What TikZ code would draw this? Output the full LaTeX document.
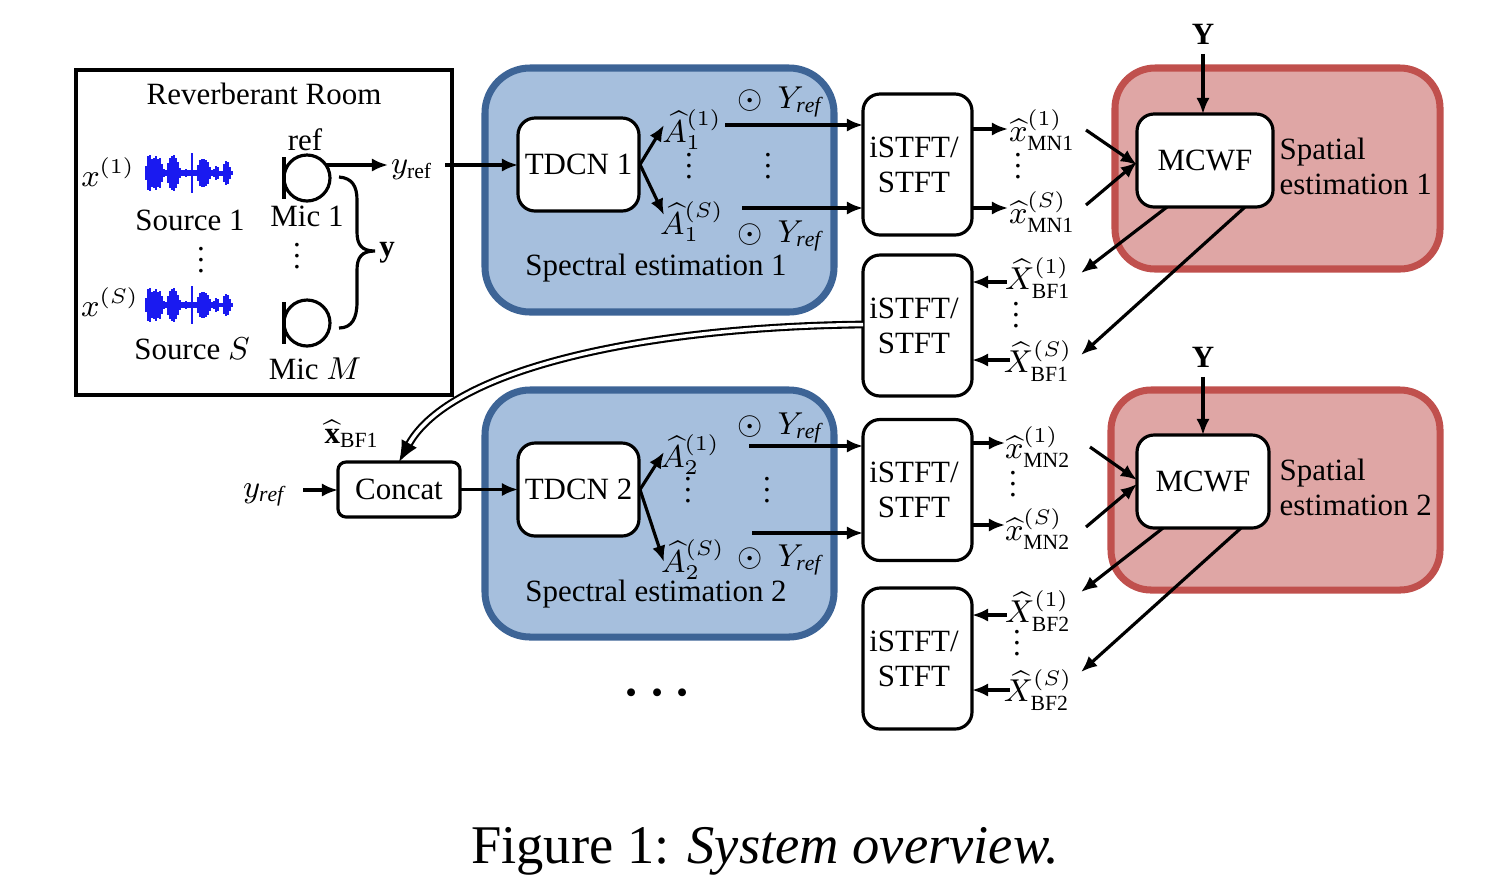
\documentclass[tikz,border=0pt]{standalone}
\usepackage{amsmath,amssymb}
\usepackage{fontspec}
\setmainfont{Liberation Serif}
\usepackage{tikz}
\usetikzlibrary{positioning}
\usetikzlibrary{arrows.meta}

\definecolor{bluefill}{HTML}{A6BFDD}
\definecolor{blueline}{HTML}{3D6496}
\definecolor{redfill}{HTML}{DFA6A5}
\definecolor{redline}{HTML}{C0504D}
\definecolor{wavecol}{HTML}{1A1AF0}

\tikzset{
  blk/.style={draw, line width=0.9pt, rounded corners=0.17cm, fill=white, align=center, inner sep=0pt, outer sep=0pt},
  tdcn/.style={blk, minimum width=121*0.01cm, minimum height=93*0.01cm},
  istft/.style={blk, minimum width=109*0.01cm, minimum height=141*0.01cm},
  mcwf/.style={blk, minimum height=93*0.01cm},
  bluebox/.style={draw=blueline, fill=bluefill, line width=2pt, rounded corners=0.45cm},
  redbox/.style={draw=redline, fill=redfill, line width=2pt, rounded corners=0.4cm},
  arr/.style={-{Latex[length=4.6pt,width=3.8pt]}, line width=0.9pt},
  micc/.style={draw, circle, line width=0.9pt, minimum size=46*0.01cm, inner sep=0pt, outer sep=0pt},
  lab/.style={inner sep=0pt}
}

\newcommand{\wavesig}[3]{%
  \foreach \dx/\hh in {0/14,2/34,4/36,6/28,8/30,10/34,12/28,14/30,16/18,18/8,20/6,22/20,24/30,26/34,28/36,30/30,32/22,34/10,36/6,38/6,40/8,42/6,44/6,46/40,48/6,50/6,52/16,54/26,56/28,58/28,60/26,62/22,64/12,66/6,68/8,70/14,72/12,74/5,76/5,78/18,80/24,82/22,84/12,86/4}
    \fill[wavecol] (#1+\dx-1,#2-#3*\hh/2) rectangle (#1+\dx+1,#2+#3*\hh/2);
}
\newcommand{\dotcol}{\vbox{\baselineskip=3.1pt \lineskiplimit=-5pt \hbox{.}\hbox{.}\hbox{.}}}
\newcommand{\istfttxt}{\kern-2pt iSTFT/\\\kern-2pt STFT}
\newcommand{\odotref}{$\odot\;\,Y_{\mathit{ref}}$}

\begin{document}
\begin{tikzpicture}[x=0.01cm, y=-0.01cm, font=\fontsize{8.8}{10}\selectfont]
  \useasboundingbox (0,0) rectangle (1500,890);

  % room
  \node[draw, line width=0.9pt, minimum width=376*0.01cm, minimum height=325*0.01cm, inner sep=0pt] (room) at (264,232.5) {};
  \node[lab] (roomtitle) at (264,94) {Reverberant Room};
  \node[lab] (srcone) at (108,172) {$x^{(1)}$};
  \node[lab] (srcs) at (110,302) {$x^{(S)}$};
  \wavesig{146}{173}{1}
  \wavesig{146}{305}{0.95}
  \node[lab] (srconetxt) at (190,220) {Source 1};
  \node[lab] (srcstxt) at (192,349) {Source $S$};
  \node[lab] (srcdots) at (201,260) {\dotcol};
  \node[lab] (ref) at (305,140) {ref};
  \node[micc] (micone) at (307,178) {};
  \node[micc] (micm) at (307,323) {};
  \draw[line width=0.9pt] (micone.west) ++(0,-21) -- ++(0,42);
  \draw[line width=0.9pt] (micm.west) ++(0,-21) -- ++(0,42);
  \node[lab] (miconetxt) at (307,216) {Mic 1};
  \node[lab] (micmtxt) at (315,369) {Mic $M$};
  \node[lab] (micdots) at (297,256) {\dotcol};
  \node[lab] (yvec) at (387,253) {$\mathbf{y}$};
  \node[lab] (yref) at (412,170) {$y_{\mathrm{ref}}$};
  \coordinate (ytip) at (388,165);
  \coordinate (brtop) at (339,177);
  \coordinate (brbot) at (339,328);
  \coordinate (brmid) at (375,251);
  \draw[arr] (micone.north east |- ytip) ++(3,0) -- (ytip);
  \draw[line width=0.9pt] (brtop) .. controls (352,178) and (357,186) .. (357,200) -- (357,232)
     .. controls (357,245) and (362,251) .. (brmid)
     .. controls (362,251) and (357,257) .. (357,270) -- (357,302)
     .. controls (357,318) and (352,328) .. (brbot);

  % spectral estimation 1
  \node[bluebox, minimum width=349*0.01cm, minimum height=244*0.01cm] (specone) at (659.5,190) {};
  \node[tdcn] (tdcnone) at (578.5,164.5) {\raisebox{-1pt}{TDCN 1}};
  \node[lab] (aoneone) at (692,130) {$\widehat{A}_1^{(1)}$};
  \node[lab] (aones) at (692,222) {$\widehat{A}_1^{(S)}$};
  \node[lab] (odotone) at (780,102) {\odotref};
  \node[lab] (odots) at (780,236) {\odotref};
  \node[lab] (adotsone) at (689,166) {\dotcol};
  \node[lab] (odotsone) at (768,166) {\dotcol};
  \node[lab] (speconetxt) at (656,268) {Spectral estimation 1};

  % spectral estimation 2
  \node[bluebox, minimum width=349*0.01cm, minimum height=247*0.01cm] (spectwo) at (659.5,513.5) {};
  \node[tdcn] (tdcntwo) at (578.5,489.5) {TDCN 2};
  \node[lab] (atwoone) at (690,455) {$\widehat{A}_2^{(1)}$};
  \node[lab] (atwos) at (693,560) {$\widehat{A}_2^{(S)}$};
  \node[lab] (odottwo) at (780,428) {\odotref};
  \node[lab] (odottwos) at (780,560) {\odotref};
  \node[lab] (adotstwo) at (688,490) {\dotcol};
  \node[lab] (odotstwo) at (767,490) {\dotcol};
  \node[lab] (spectwotxt) at (656,594) {Spectral estimation 2};

  % spatial estimation
  \node[redbox, minimum width=325*0.01cm, minimum height=201*0.01cm] (spatone) at (1277.5,168.5) {};
  \node[redbox, minimum width=329*0.01cm, minimum height=200*0.01cm] (spattwo) at (1275.5,490) {};
  \node[mcwf, minimum width=136*0.01cm] (mcwfone) at (1205,160.5) {\raisebox{-1pt}{MCWF}};
  \node[mcwf, minimum width=132*0.01cm] (mcwftwo) at (1203,481.5) {MCWF};
  \node[lab, align=left, anchor=west] (spatonetxt) at (1279,166) {Spatial\\estimation 1};
  \node[lab, align=left, anchor=west] (spattwotxt) at (1279,487) {Spatial\\estimation 2};
  \node[lab] (yone) at (1203,34) {$\mathbf{Y}$};
  \node[lab] (ytwo) at (1203,357) {$\mathbf{Y}$};

  % istft blocks
  \node[istft] (istftone) at (917.5,164.5) {\istfttxt};
  \node[istft] (istfttwo) at (917.5,325.5) {\istfttxt};
  \node[istft] (istftthree) at (917.5,490) {\istfttxt};
  \node[istft] (istftfour) at (917.5,658.5) {\istfttxt};

  % signals
  \node[lab] (mnoneone) at (1042,130) {$\widehat{x}^{(1)}_{\mathrm{MN1}}$};
  \node[lab] (mnones) at (1042,212) {$\widehat{x}^{(S)}_{\mathrm{MN1}}$};
  \node[lab] (bfoneone) at (1038,278) {$\widehat{X}^{(1)}_{\mathrm{BF1}}$};
  \node[lab] (bfones) at (1038,361) {$\widehat{X}^{(S)}_{\mathrm{BF1}}$};
  \node[lab] (mntwoone) at (1038,447) {$\widehat{x}^{(1)}_{\mathrm{MN2}}$};
  \node[lab] (mntwos) at (1038,529) {$\widehat{x}^{(S)}_{\mathrm{MN2}}$};
  \node[lab] (bftwoone) at (1038,611) {$\widehat{X}^{(1)}_{\mathrm{BF2}}$};
  \node[lab] (bftwos) at (1038,690) {$\widehat{X}^{(S)}_{\mathrm{BF2}}$};
  \node[lab] (dotsa) at (1018,166) {\dotcol};
  \node[lab] (dotsb) at (1016,315) {\dotcol};
  \node[lab] (dotsc) at (1013,484) {\dotcol};
  \node[lab] (dotsd) at (1017,643) {\dotcol};

  % concat
  \node[blk, rounded corners=0.08cm, minimum width=122*0.01cm, minimum height=55*0.01cm] (concat) at (399,489.5) {Concat};
  \node[lab] (xbf) at (352,434) {$\widehat{\mathbf{x}}_{\mathrm{BF1}}$};
  \node[lab] (yin) at (264,495) {$y_{\mathit{ref}}$};
  \node[lab] (moredots) at (662,693) {\fontsize{15}{15}\selectfont $\boldsymbol{\cdots}$};

  % free ends of the arrows
  \coordinate (yoneout) at (445,165);
  \coordinate (aoneend) at (725,125);
  \coordinate (asend) at (742,208);
  \coordinate (atwoend) at (749,446);
  \coordinate (atwosend) at (752,533);
  \coordinate (mnonetip) at (1008,129);
  \coordinate (mnstip) at (1008,208);
  \coordinate (mntwotip) at (1005,443);
  \coordinate (mntwostip) at (1005,525);
  \coordinate (inone) at (1086,130);
  \coordinate (ins) at (1086,205);
  \coordinate (intwo) at (1090,447);
  \coordinate (intwos) at (1086,527);
  \coordinate (bfonetip) at (1081,273);
  \coordinate (bfstip) at (1081,355);
  \coordinate (bftwotip) at (1081,592);
  \coordinate (bftwostip) at (1081,672);
  \coordinate (bfoneout) at (1007,282);
  \coordinate (bfsout) at (1010,360);
  \coordinate (bftwoout) at (1007,615);
  \coordinate (bftwosout) at (1010,690);
  \coordinate (yinout) at (303,490);

  \draw[arr] (yoneout) -- (tdcnone.west |- yoneout);
  \draw[arr] (tdcnone.east) ++(1,0) -- (664,125);
  \draw[arr] (tdcnone.east) ++(1,0) -- (664,215);
  \draw[arr] (aoneend) -- (istftone.west |- aoneend);
  \draw[arr] (asend) -- (istftone.west |- asend);
  \draw[arr] (istftone.east |- mnonetip) -- (mnonetip);
  \draw[arr] (istftone.east |- mnstip) -- (mnstip);
  \draw[arr] (inone) -- (1137,165);
  \draw[arr] (ins) -- (1137,162);
  \draw[arr] (yone.south) ++(0,9) -- (mcwfone.north -| yone);
  \draw[arr] (1167,207) -- (bfonetip);
  \draw[arr] (1245,207) -- (bfstip);
  \draw[arr] (bfoneout) -- (istfttwo.east |- bfoneout);
  \draw[arr] (bfsout) -- (istfttwo.east |- bfsout);
  \draw[-{Latex[length=6pt,width=5pt]}, double, double distance=1pt, line width=0.6pt] (istfttwo.west) ++(0,-1)
     .. controls (640,327) and (450,370) .. (concat.north);
  \draw[arr] (yinout) -- (concat.west |- yinout);
  \draw[arr] (concat.east) -- (tdcntwo.west);
  \draw[arr] (tdcntwo.east) ++(1,0) -- (664,452);
  \draw[arr] (tdcntwo.east) ++(1,0) -- (664,562);
  \draw[arr] (atwoend) -- (istftthree.west |- atwoend);
  \draw[arr] (atwosend) -- (istftthree.west |- atwosend);
  \draw[arr] (istftthree.east |- mntwotip) -- (mntwotip);
  \draw[arr] (istftthree.east |- mntwostip) -- (mntwostip);
  \draw[arr] (intwo) -- (1137,480);
  \draw[arr] (intwos) -- (1137,484);
  \draw[arr] (ytwo.south) ++(0,9) -- (mcwftwo.north -| ytwo);
  \draw[arr] (1163,528) -- (bftwotip);
  \draw[arr] (1241,528) -- (bftwostip);
  \draw[arr] (bftwoout) -- (istftfour.east |- bftwoout);
  \draw[arr] (bftwosout) -- (istftfour.east |- bftwosout);

  \node[lab] (caption) at (765,851) {\fontsize{15.5}{18}\selectfont Figure 1: \textit{System overview.}};
\end{tikzpicture}
\end{document}
